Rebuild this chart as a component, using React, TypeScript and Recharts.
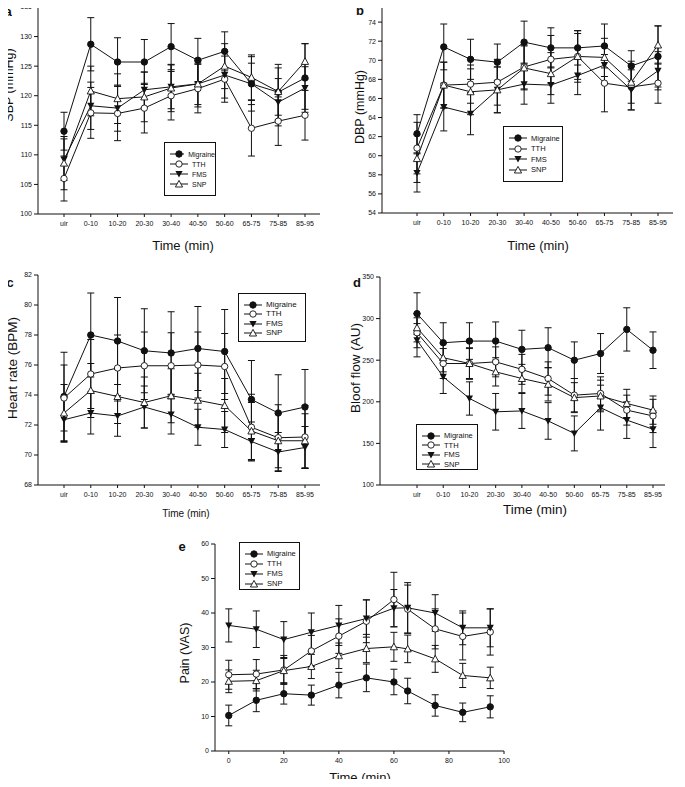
import React from 'react';
import { LineChart, Line, XAxis, YAxis, ErrorBar } from 'recharts';

const periods = ['uir', '0-10', '10-20', '20-30', '30-40', '40-50', '50-60', '65-75', '75-85', '85-95'];
const painTimes = [0, 10, 20, 30, 40, 50, 60, 65, 75, 85, 95];

// a: systolic blood pressure
const sbpMigraine = [114, 128.7, 125.7, 125.7, 128.3, 126, 127.5, 122, 120.6, 123];
const sbpMigraineSd = [3.2, 4.5, 4.1, 3.8, 3.9, 3.7, 3.3, 4.6, 4.7, 5.8];
const sbpTth = [106, 117.1, 117, 117.9, 120, 121.2, 122.8, 114.5, 115.7, 116.7];
const sbpTthSd = [3.8, 4.3, 4.6, 4.2, 4.1, 4.1, 3.9, 4.7, 4.1, 4.2];
const sbpFms = [109.2, 118.3, 117.9, 121, 121.5, 122, 123.5, 122, 118.9, 121.3];
const sbpFmsSd = [3.5, 4.0, 3.9, 3.0, 3.7, 3.9, 3.9, 3.5, 4.0, 3.6];
const sbpSnp = [108.6, 120.8, 119.5, 119.8, 121.3, 122, 125, 123.1, 120.7, 125.8];
const sbpSnpSd = [4.5, 4.2, 4.2, 4.2, 4.0, 3.5, 3.8, 3.8, 4.0, 3.0];

// b: diastolic blood pressure
const dbpMigraine = [62.3, 71.4, 70.1, 69.8, 71.9, 71.3, 71.3, 71.5, 69.4, 70.4];
const dbpMigraineSd = [2.0, 2.4, 2.1, 1.9, 2.2, 2.1, 1.8, 2.3, 1.6, 3.2];
const dbpTth = [60.8, 67.4, 67.5, 67.7, 69.3, 70.1, 70.4, 67.6, 67.2, 67.6];
const dbpTthSd = [2.7, 2.4, 2.0, 2.4, 2.3, 2.5, 2.7, 3.0, 2.4, 2.1];
const dbpFms = [58.2, 65.1, 64.4, 66.9, 67.5, 67.4, 68.4, 69.5, 66.9, 68.9];
const dbpFmsSd = [2.0, 2.5, 2.2, 2.4, 2.1, 1.9, 2.0, 2.0, 2.1, 2.0];
const dbpSnp = [59.7, 67.4, 66.7, 66.9, 69.2, 68.6, 70.4, 70.3, 67.7, 71.6];
const dbpSnpSd = [2.5, 2.4, 2.4, 2.4, 2.3, 2.2, 2.4, 2.0, 2.2, 2.0];

// c: heart rate
const hrMigraine = [73.9, 78.0, 77.6, 76.95, 76.8, 77.1, 76.9, 73.7, 72.8, 73.2];
const hrMigraineSd = [2.95, 2.8, 2.9, 2.8, 2.75, 2.8, 2.8, 2.6, 2.55, 2.5];
const hrTth = [73.8, 75.4, 75.8, 75.95, 75.95, 76.0, 75.9, 71.85, 71.15, 71.2];
const hrTthSd = [2.2, 2.3, 2.2, 2.25, 2.2, 2.2, 2.2, 2.2, 2.2, 2.1];
const hrFms = [72.35, 72.8, 72.6, 73.2, 72.7, 71.85, 71.7, 70.9, 70.2, 70.5];
const hrFmsSd = [1.5, 1.4, 1.35, 1.4, 1.3, 1.2, 1.2, 1.3, 1.3, 1.4];
const hrSnp = [72.8, 74.3, 73.9, 73.5, 73.95, 73.65, 73.3, 71.6, 70.95, 70.95];
const hrSnpSd = [1.9, 1.8, 1.8, 1.7, 1.8, 1.8, 1.8, 1.9, 1.8, 1.8];

// d: blood flow
const bfMigraine = [306, 271, 273, 273, 263, 265, 250, 258, 287, 262];
const bfMigraineSd = [25, 24, 22, 23, 23, 24, 22, 24, 26, 22];
const bfTth = [283, 246, 246, 248, 239, 228, 208, 210, 190, 183];
const bfTthSd = [18, 18, 19, 18, 18, 20, 20, 20, 18, 20];
const bfFms = [274, 230, 204, 188, 189, 177, 162, 193, 178, 167];
const bfFmsSd = [20, 20, 20, 22, 21, 22, 21, 27, 22, 22];
const bfSnp = [289, 253, 246, 236, 228, 221, 205, 207, 198, 190];
const bfSnpSd = [17, 17, 18, 17, 17, 20, 18, 19, 17, 17];

// e: pain
const painMigraine = [10.3, 14.7, 16.6, 16.2, 19.1, 21.2, 20.0, 17.4, 13.2, 11.2, 12.8];
const painMigraineSd = [3.0, 3.3, 3.0, 2.9, 3.7, 4.0, 3.7, 3.7, 3.1, 2.7, 3.2];
const painTth = [22.1, 22.3, 23.5, 29, 33.3, 37.6, 43.9, 41.1, 35.4, 33.2, 34.5];
const painTthSd = [4.2, 4.2, 4.2, 4.5, 5.0, 6.2, 7.9, 7.0, 5.8, 6.8, 6.7];
const painFms = [36.4, 35.3, 32.3, 34.4, 36.4, 38.4, 41.4, 41.5, 40.0, 35.7, 35.7];
const painFmsSd = [4.8, 5.3, 5.2, 5.6, 5.8, 5.4, 5.4, 7.3, 5.3, 4.9, 5.5];
const painSnp = [20.2, 20.4, 23.3, 24.5, 27.6, 29.7, 30.2, 29.6, 26.7, 21.9, 21.2];
const painSnpSd = [3.3, 3.0, 3.5, 3.5, 3.7, 4.1, 4.2, 4.0, 3.9, 3.5, 3.1];

const FONT = '"Liberation Sans", Arial, Helvetica, sans-serif';
const INK = '#111';

type Kind = 'filledCircle' | 'openCircle' | 'downTri' | 'upTri';

const SERIES: { key: string; name: string; kind: Kind }[] = [
  { key: 'm', name: 'Migraine', kind: 'filledCircle' },
  { key: 't', name: 'TTH', kind: 'openCircle' },
  { key: 'f', name: 'FMS', kind: 'downTri' },
  { key: 's', name: 'SNP', kind: 'upTri' },
];

function buildRows(xs: (string | number)[], m: number[], mSd: number[], t: number[], tSd: number[],
  f: number[], fSd: number[], s: number[], sSd: number[]) {
  return xs.map((x, i) => ({
    x, m: m[i], mSd: mSd[i], t: t[i], tSd: tSd[i], f: f[i], fSd: fSd[i], s: s[i], sSd: sSd[i],
  }));
}

function Marker({ cx, cy, kind }: { cx?: number; cy?: number; kind: Kind }) {
  if (cx == null || cy == null) return null;
  if (kind === 'filledCircle') return <circle cx={cx} cy={cy} r={3.2} fill={INK} stroke={INK} />;
  if (kind === 'openCircle') return <circle cx={cx} cy={cy} r={3.2} fill="#fff" stroke={INK} strokeWidth={0.9} />;
  if (kind === 'downTri')
    return <polygon points={`${cx - 3.6},${cy - 3} ${cx + 3.6},${cy - 3} ${cx},${cy + 3.6}`} fill={INK} />;
  return (
    <polygon points={`${cx - 3.6},${cy + 3} ${cx + 3.6},${cy + 3} ${cx},${cy - 3.6}`}
      fill="#fff" stroke={INK} strokeWidth={0.9} />
  );
}

function Legend({ left, top, width, height, fontSize, gap }: {
  left: number; top: number; width: number; height: number; fontSize: number; gap: number;
}) {
  return (
    <div style={{
      position: 'absolute', left, top, width, height, border: `1px solid ${INK}`, boxSizing: 'border-box',
      background: '#fff', paddingTop: 6, paddingLeft: 5, fontFamily: FONT, fontSize, color: INK,
    }}>
      {SERIES.map((s) => (
        <div key={s.key} style={{ display: 'flex', alignItems: 'center', height: gap }}>
          <svg width={18} height={8} style={{ marginRight: 4 }}>
            <line x1={0} y1={4} x2={18} y2={4} stroke={INK} strokeWidth={1} />
            <Marker cx={9} cy={4} kind={s.kind} />
          </svg>
          <span style={{ lineHeight: 1 }}>{s.name}</span>
        </div>
      ))}
    </div>
  );
}

function Text({ x, y, size, children, rotate, bold }: {
  x: number; y: number; size: number; children: React.ReactNode; rotate?: boolean; bold?: boolean;
}) {
  return (
    <div style={{
      position: 'absolute', left: x, top: y, whiteSpace: 'nowrap', fontFamily: FONT, fontSize: size,
      fontWeight: bold ? 'bold' : 'normal', color: INK, lineHeight: 1, zIndex: 2,
      transform: `translate(-50%, -50%)${rotate ? ' rotate(-90deg)' : ''}`,
    }}>{children}</div>
  );
}

type PanelProps = {
  left: number; top: number; width: number; height: number;
  margin: { top: number; right: number; bottom: number; left: number };
  rows: any[];
  numericX?: boolean;
  padding?: { left: number; right: number };
  yDomain: [number, number]; yTicks: number[];
};

function Panel({ left, top, width, height, margin, rows, numericX, padding, yDomain, yTicks }: PanelProps) {
  const tick = { fontSize: 7, fill: INK, fontFamily: FONT };
  return (
    <div style={{ position: 'absolute', left, top }}>
      <LineChart width={width} height={height} data={rows} margin={margin}>
        {numericX ? (
          <XAxis dataKey="x" type="number" domain={[-5, 100]} ticks={[0, 20, 40, 60, 80, 100]}
            allowDataOverflow interval={0} height={20} tickSize={3} tickMargin={4} tick={tick}
            axisLine={{ stroke: INK }} tickLine={{ stroke: INK }} />
        ) : (
          <XAxis dataKey="x" interval={0} padding={padding} height={20} tickSize={3} tickMargin={4}
            tick={tick} axisLine={{ stroke: INK }} tickLine={{ stroke: INK }} />
        )}
        <YAxis type="number" domain={yDomain} ticks={yTicks} interval={0} allowDataOverflow width={38}
          tickSize={4} tickMargin={2} tick={tick} axisLine={{ stroke: INK }} tickLine={{ stroke: INK }} />
        {SERIES.map((s) => (
          <Line key={s.key} dataKey={s.key} stroke={INK} strokeWidth={1} isAnimationActive={false}
            activeDot={false}
            dot={(p: any) => <Marker key={`${s.key}-${p.index}`} cx={p.cx} cy={p.cy} kind={s.kind} />}>
            <ErrorBar dataKey={`${s.key}Sd`} width={3.5} stroke={INK} strokeWidth={1} direction="y" />
          </Line>
        ))}
      </LineChart>
    </div>
  );
}

export default function App() {
  const sbpRows = buildRows(periods, sbpMigraine, sbpMigraineSd, sbpTth, sbpTthSd, sbpFms, sbpFmsSd, sbpSnp, sbpSnpSd);
  const dbpRows = buildRows(periods, dbpMigraine, dbpMigraineSd, dbpTth, dbpTthSd, dbpFms, dbpFmsSd, dbpSnp, dbpSnpSd);
  const hrRows = buildRows(periods, hrMigraine, hrMigraineSd, hrTth, hrTthSd, hrFms, hrFmsSd, hrSnp, hrSnpSd);
  const bfRows = buildRows(periods, bfMigraine, bfMigraineSd, bfTth, bfTthSd, bfFms, bfFmsSd, bfSnp, bfSnpSd);
  const painRows = buildRows(painTimes, painMigraine, painMigraineSd, painTth, painTthSd, painFms, painFmsSd, painSnp, painSnpSd);

  return (
    <div style={{ position: 'relative', width: 685, height: 787, margin: -8, background: '#fff', overflow: 'hidden' }}>
      {/* a */}
      <Panel left={0} top={0} width={330} height={235} margin={{ top: 7, right: 10, bottom: 1, left: 0 }}
        rows={sbpRows} padding={{ left: 26, right: 15 }} yDomain={[100, 135]}
        yTicks={[100, 105, 110, 115, 120, 125, 130, 135]} />
      <Legend left={164} top={142} width={52} height={54} fontSize={7} gap={10} />
      <Text x={8} y={11} size={13} bold>a</Text>
      <Text x={9} y={85} size={12.5} rotate>SBP (mmHg)</Text>
      <Text x={183} y={245} size={13}>Time (min)</Text>

      {/* b */}
      <Panel left={344} top={0} width={335} height={234} margin={{ top: 3, right: 6, bottom: 1, left: 0 }}
        rows={dbpRows} padding={{ left: 35, right: 15 }} yDomain={[54, 76]}
        yTicks={[54, 56, 58, 60, 62, 64, 66, 68, 70, 72, 74, 76]} />
      <Legend left={503} top={126} width={60} height={56} fontSize={7.5} gap={10.5} />
      <Text x={360} y={10} size={13} bold>b</Text>
      <Text x={360} y={107} size={12.5} rotate>DBP (mmHg)</Text>
      <Text x={538} y={245} size={13}>Time (min)</Text>

      {/* c */}
      <Panel left={0} top={265} width={330} height={241} margin={{ top: 10, right: 10, bottom: 1, left: 0 }}
        rows={hrRows} padding={{ left: 26, right: 15 }} yDomain={[68, 82]}
        yTicks={[68, 70, 72, 74, 76, 78, 80, 82]} />
      <Legend left={238} top={293} width={68} height={49} fontSize={8} gap={9.5} />
      <Text x={10} y={282} size={13} bold>c</Text>
      <Text x={13} y={368} size={13.5} rotate>Heart rate (BPM)</Text>
      <Text x={186} y={514} size={10}>Time (min)</Text>

      {/* d */}
      <Panel left={342} top={265} width={335} height={241} margin={{ top: 12, right: 12, bottom: 1, left: 0 }}
        rows={bfRows} padding={{ left: 37, right: 12 }} yDomain={[100, 350]}
        yTicks={[100, 150, 200, 250, 300, 350]} />
      <Legend left={416} top={424} width={62} height={46} fontSize={7.5} gap={9.5} />
      <Text x={357} y={282} size={13} bold>d</Text>
      <Text x={356} y={368} size={13.5} rotate>Bloof flow (AU)</Text>
      <Text x={535} y={510} size={13.5}>Time (min)</Text>

      {/* e */}
      <Panel left={177} top={510} width={345} height={262} margin={{ top: 34, right: 18, bottom: 1, left: 0 }}
        rows={painRows} numericX yDomain={[0, 60]} yTicks={[0, 10, 20, 30, 40, 50, 60]} />
      <Legend left={239} top={542} width={61} height={48} fontSize={7.5} gap={10} />
      <Text x={182} y={546} size={13} bold>e</Text>
      <Text x={185} y={653} size={12.5} rotate>Pain (VAS)</Text>
      <Text x={360} y={777} size={13}>Time (min)</Text>
    </div>
  );
}
